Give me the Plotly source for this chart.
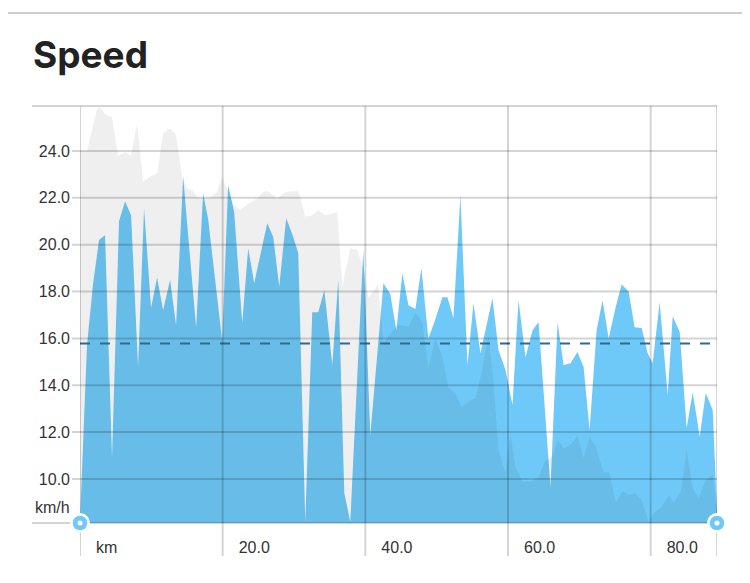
import plotly.graph_objects as go

# ride speed (km/h) against distance (km)
distance_km = [
    0.0, 0.98, 1.82, 2.67, 3.51, 4.49, 5.47, 6.32, 7.16, 8.14,
    8.98, 9.96, 10.81, 11.65, 12.63, 13.47, 14.46, 16.28, 17.26, 17.96,
    19.93, 20.77, 21.61, 22.74, 23.58, 24.42, 26.25, 27.09, 27.93, 28.91,
    29.89, 30.6, 31.58, 32.56, 33.4, 34.25, 35.37, 36.21, 37.05, 37.89,
    39.72, 40.7, 42.53, 43.5, 44.35, 45.19, 46.04, 47.02, 47.86, 48.84,
    49.68, 50.81, 51.51, 52.35, 53.33, 54.32, 55.16, 56.14, 57.82, 58.67,
    59.65, 60.63, 61.47, 62.46, 63.44, 64.28, 65.96, 66.95, 67.79, 68.77,
    69.75, 70.6, 71.44, 72.42, 73.26, 74.11, 75.09, 75.93, 76.91, 77.75,
    78.74, 79.58, 80.28, 81.26, 82.39, 83.09, 84.07, 85.05, 85.89, 86.88,
    87.72, 88.7, 89.3,
]
speed_kmh = [
    8.2, 15.7, 18.3, 20.2, 20.4, 10.9, 21.0, 21.85, 21.26, 14.8,
    21.55, 17.3, 18.6, 17.2, 18.5, 16.55, 22.9, 16.45, 22.2, 21.1,
    15.9, 22.55, 21.4, 16.65, 19.85, 18.35, 20.92, 20.33, 18.2, 21.13,
    20.33, 19.63, 8.17, 17.12, 17.12, 18.06, 14.86, 18.5, 9.4, 8.17,
    19.77, 11.88, 18.35, 17.9, 16.35, 18.78, 17.42, 17.25, 19.0, 16.0,
    16.7, 17.76, 17.76, 16.86, 22.1, 14.86, 17.5, 15.37, 17.72, 15.5,
    14.65, 13.16, 17.63, 15.2, 16.35, 16.7, 9.66, 16.7, 14.86, 14.94,
    15.42, 14.78, 12.09, 16.35, 17.63, 16.0, 17.33, 18.3, 18.0, 16.48,
    16.44, 15.37, 14.94, 17.55, 13.58, 16.95, 16.27, 12.17, 13.7, 11.8,
    13.67, 12.94, 8.68,
]

# comparison ride drawn behind
compare_distance_km = [
    0.0, 0.98, 2.39, 2.81, 3.79, 4.49, 5.33, 6.32, 7.16, 8.0,
    8.84, 9.82, 10.81, 11.65, 12.63, 13.47, 14.32, 15.02, 15.86, 16.56,
    18.25, 19.23, 19.93, 21.47, 22.46, 23.58, 24.84, 25.68, 26.25, 27.65,
    28.77, 29.89, 30.6, 31.58, 32.56, 33.4, 34.39, 36.07, 36.77, 37.89,
    38.88, 39.72, 40.42, 41.09, 41.8, 42.53, 43.79, 44.49, 46.04, 47.02,
    48.0, 48.84, 49.82, 50.81, 51.65, 52.63, 53.47, 54.46, 55.44, 56.42,
    57.26, 57.96, 58.67, 59.65, 60.35, 61.05, 62.04, 63.16, 64.28, 65.26,
    66.25, 66.95, 67.79, 68.77, 69.75, 70.6, 71.44, 72.28, 73.4, 74.25,
    75.09, 76.07, 76.91, 77.75, 78.74, 79.72, 80.42, 81.54, 82.53, 83.23,
    84.21, 85.05, 85.89, 86.74, 87.72, 88.7, 89.3,
]
compare_speed_kmh = [
    24.0, 24.0, 25.8, 25.86, 25.5, 25.45, 23.8, 23.95, 23.8, 25.2,
    22.7, 22.9, 23.05, 24.75, 24.97, 24.67, 22.9, 22.4, 22.3, 22.0,
    22.0, 22.25, 22.9, 21.75, 21.47, 21.75, 21.97, 22.25, 22.3, 21.97,
    22.25, 22.3, 22.3, 21.2, 21.26, 21.47, 21.26, 21.4, 18.2, 19.85,
    19.77, 19.0, 17.76, 18.0, 18.3, 15.8, 16.3, 16.57, 16.5, 17.1,
    16.7, 14.78, 16.0, 15.2, 13.9, 13.67, 13.07, 13.3, 13.45, 14.7,
    16.1, 14.2, 11.23, 10.28, 11.9, 10.5, 9.9, 9.87, 10.08, 10.8,
    10.95, 11.66, 11.3, 11.45, 11.85, 10.9, 11.8, 11.4, 10.3, 10.28,
    9.0, 9.5, 9.3, 9.4, 9.1, 8.17, 8.55, 8.8, 9.3, 9.0,
    9.45, 11.24, 9.6, 9.2, 9.96, 10.17, 8.68,
]

avg_speed_kmh = 15.78

x_ticks = [0, 20, 40, 60, 80]
x_tick_labels = ['km', '20.0', '40.0', '60.0', '80.0']
y_ticks = [10, 12, 14, 16, 18, 20, 22, 24]
x_range = [0, 89.3]
y_range = [8.12, 25.92]

BLUE = '#6fc9f8'
GRID = 'rgba(0,0,0,0.17)'
FONT = 'Liberation Sans'

fig = go.Figure()

fig.add_trace(go.Scatter(
    x=distance_km, y=speed_kmh,
    mode='lines', line={'width': 0},
    fill='tozeroy', fillcolor=BLUE,
    hoverinfo='skip', showlegend=False,
))
fig.add_trace(go.Scatter(
    x=compare_distance_km, y=compare_speed_kmh,
    mode='lines', line={'width': 0},
    fill='tozeroy', fillcolor='rgba(0,0,0,0.063)',
    hoverinfo='skip', showlegend=False,
))
fig.add_trace(go.Scatter(
    x=[distance_km[0], distance_km[-1]], y=[avg_speed_kmh, avg_speed_kmh],
    mode='lines', line={'color': '#2d6a8e', 'width': 2, 'dash': '10px,10px'},
    hoverinfo='skip', showlegend=False,
))

shapes = []
# vertical grid, running down through the tick labels
for v in x_ticks + [x_range[1]]:
    shapes.append(dict(type='line', xref='x', yref='y domain', x0=v, x1=v,
                       y0=-0.079, y1=1, line={'color': GRID, 'width': 2}, layer='above'))
for v in y_ticks:
    shapes.append(dict(type='line', xref='x domain', yref='y', x0=-0.0126, x1=1,
                       y0=v, y1=v, line={'color': GRID, 'width': 2}, layer='above'))
for d in [0, 1]:
    shapes.append(dict(type='line', xref='x domain', yref='y domain', x0=-0.0754, x1=1,
                       y0=d, y1=d, line={'color': GRID, 'width': 2}, layer='above'))

# range handles at both ends of the axis
for v in [0, 1]:
    for r, c in [(10, 'white'), (7.3, BLUE), (2.5, 'white')]:
        shapes.append(dict(type='circle', xref='x domain', yref='y domain',
                           xsizemode='pixel', ysizemode='pixel',
                           xanchor=v, yanchor=0,
                           x0=-r, x1=r, y0=-r, y1=r,
                           fillcolor=c, line={'width': 0}, layer='above'))

# page separator
shapes.append(dict(type='line', xref='paper', yref='paper', x0=-0.113, x1=1.052,
                   y0=1.223, y1=1.223, line={'color': '#bdbdbd', 'width': 1.5}))

# page body adds 8px, so the figure is drawn 8px smaller and shifted
fig.update_layout(
    width=742, height=575,
    margin={'l': 72, 'r': 33, 't': 98, 'b': 60},
    plot_bgcolor='white', paper_bgcolor='white',
    title={'text': 'Speed', 'xref': 'container', 'yref': 'container',
           'x': 0.0337, 'xanchor': 'left', 'y': 0.9176, 'yanchor': 'middle',
           'font': {'family': 'Inter', 'size': 37, 'weight': 700, 'color': '#222'}},
    shapes=shapes,
    showlegend=False,
    xaxis={'range': x_range, 'showgrid': False, 'zeroline': False, 'showline': False,
           'tickvals': x_ticks, 'ticktext': x_tick_labels, 'ticks': '',
           'ticklabelposition': 'outside right', 'ticklabelshift': 16,
           'ticklabelstandoff': 13,
           'tickfont': {'family': FONT, 'size': 16, 'color': '#333'}},
    yaxis={'range': y_range, 'showgrid': False, 'zeroline': False, 'showline': False,
           'tickvals': y_ticks, 'tickformat': '.1f', 'ticks': '',
           'ticklabelstandoff': 9,
           'tickfont': {'family': FONT, 'size': 16, 'color': '#333'}},
    annotations=[dict(text='km/h', xref='x domain', yref='y domain', x=0, y=0,
                      xanchor='right', yanchor='bottom', xshift=-8, yshift=5,
                      showarrow=False,
                      font={'family': FONT, 'size': 16, 'color': '#333'})],
)

fig.write_html('out.html')
